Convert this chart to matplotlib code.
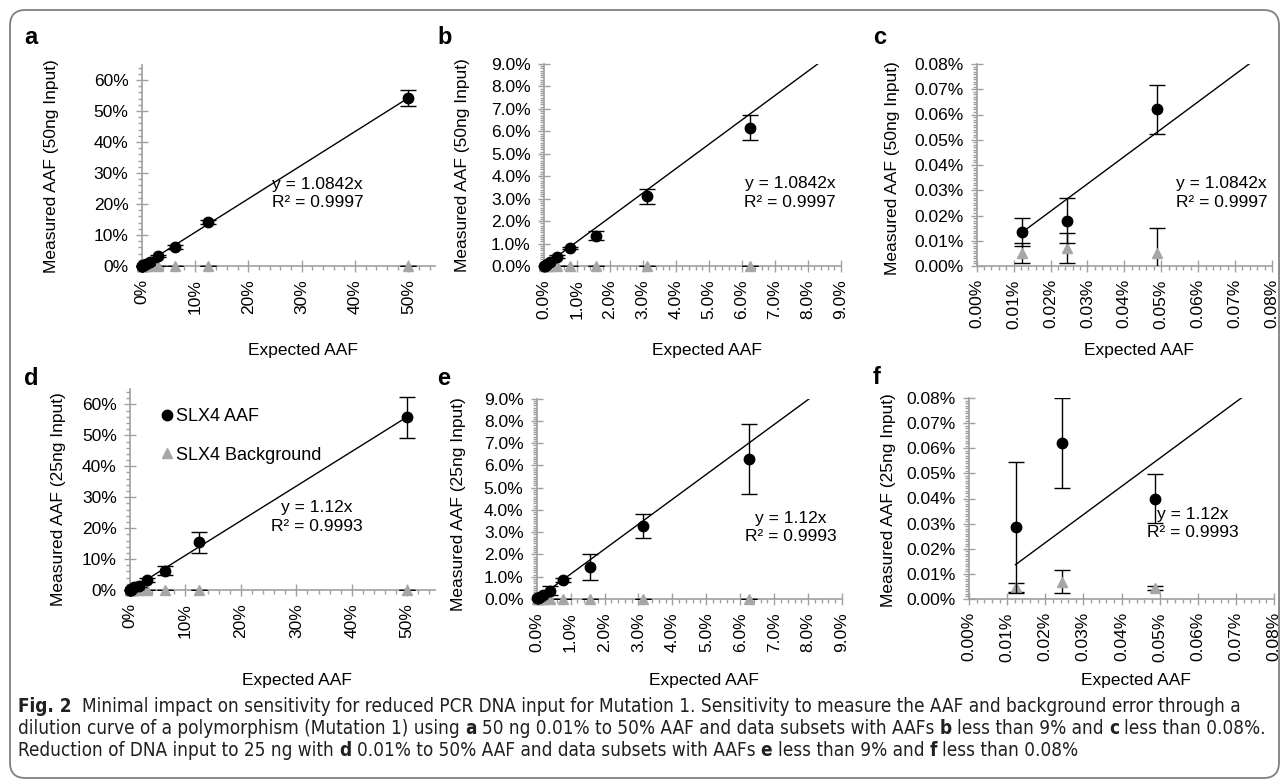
import numpy as np
import matplotlib
matplotlib.use("Agg")
import matplotlib.pyplot as plt
from matplotlib import font_manager
from matplotlib.ticker import MultipleLocator, PercentFormatter
from matplotlib.lines import Line2D
from matplotlib.patches import FancyBboxPatch

plt.rcParams['font.family'] = ['Liberation Sans', 'DejaVu Sans']

# expected AAF (%) of the dilution series
expected = [50, 12.5, 6.25, 3.125, 1.5625, 0.78125, 0.390625, 0.1953, 0.0977, 0.0488, 0.0244, 0.0122]

# 50 ng input
aaf_50 = [54.3, 14.2, 6.17, 3.1, 1.35, 0.8, 0.42, 0.2, 0.1, 0.062, 0.018, 0.0135]
aaf_50_err = [2.6, 0.5, 0.57, 0.35, 0.2, 0.05, 0.05, 0.03, 0.02, 0.0098, 0.009, 0.0055]
bg_50 = [0.005, 0.005, 0.005, 0.005, 0.005, 0.005, 0.005, 0.005, 0.005, 0.005, 0.007, 0.005]
bg_50_err = [0.003, 0.003, 0.003, 0.003, 0.003, 0.003, 0.003, 0.003, 0.003, 0.010, 0.006, 0.004]
slope_50 = 1.0842
r2_50 = 0.9997

# 25 ng input
aaf_25 = [55.8, 15.4, 6.3, 3.27, 1.45, 0.85, 0.38, 0.2, 0.1, 0.040, 0.062, 0.0285]
aaf_25_err = [6.5, 3.4, 1.57, 0.55, 0.58, 0.08, 0.2, 0.05, 0.03, 0.0096, 0.018, 0.026]
bg_25 = [0.005, 0.005, 0.005, 0.005, 0.005, 0.005, 0.005, 0.005, 0.005, 0.0045, 0.0068, 0.0047]
bg_25_err = [0.003, 0.003, 0.003, 0.003, 0.003, 0.003, 0.003, 0.003, 0.003, 0.0008, 0.0046, 0.0018]
slope_25 = 1.12
r2_25 = 0.9993

W, H = 1285, 784
fig = plt.figure(figsize=(W / 100, H / 100), dpi=100)

AXIS_GRAY = '#a0a0a0'
TRI_GRAY = '#a6a6a6'


def px(x, y):
    return x / W, 1 - y / H


# (left, top, right, bottom) in pixels, axis max, major, x minor, y minor, decimals
panels = [
    ('a', (141.7, 64.5, 435, 266), 55, 65, 10, 2, 2, 0, '50', 0.60, 0.36),
    ('b', (544, 64, 840.7, 266), 9, 9, 1, 0.2, 0.1, 1, '50', 0.83, 0.36),
    ('c', (976.7, 64, 1272, 266), 0.08, 0.08, 0.01, 0.002, 0.001, 2, '50', 0.83, 0.36),
    ('d', (130, 389, 435, 590), 55, 65, 10, 2, 2, 0, '25', 0.613, 0.363),
    ('e', (536.7, 398.7, 842, 599), 9, 9, 1, 0.2, 0.1, 1, '25', 0.833, 0.357),
    ('f', (969, 398, 1274, 599), 0.08, 0.08, 0.01, 0.002, 0.001, 2, '25', 0.734, 0.375),
]

for name, box, xmax, ymax, major, xminor, yminor, dec, ng, tx, ty in panels:
    l, t, r, b = box
    ax = fig.add_axes([l / W, 1 - b / H, (r - l) / W, (b - t) / H])

    if ng == '50':
        meas, meas_err, bg, bg_err, slope, r2 = aaf_50, aaf_50_err, bg_50, bg_50_err, slope_50, r2_50
    else:
        meas, meas_err, bg, bg_err, slope, r2 = aaf_25, aaf_25_err, bg_25, bg_25_err, slope_25, r2_25

    # data subset shown in this panel
    keep = np.array(expected) <= xmax
    x_sub = np.array(expected)[keep]
    m_sub, me_sub = np.array(meas)[keep], np.array(meas_err)[keep]
    b_sub, be_sub = np.array(bg)[keep], np.array(bg_err)[keep]

    xs = np.array([min(expected), max(expected)])
    ax.plot(xs, slope * xs, color='black', lw=1, zorder=2)
    ax.errorbar(x_sub, b_sub, yerr=be_sub, fmt='none', ecolor='black',
                elinewidth=1, capsize=6, capthick=1, zorder=3)
    ax.plot(x_sub, b_sub, ls='none', marker='^', color=TRI_GRAY, ms=7.5,
            clip_on=False, zorder=3)
    ax.errorbar(x_sub, m_sub, yerr=me_sub, fmt='none', ecolor='black',
                elinewidth=1, capsize=6, capthick=1, zorder=4)
    ax.plot(x_sub, m_sub, ls='none', marker='o', color='black', ms=7.5,
            clip_on=False, zorder=4)

    ax.set_xlim(0, xmax)
    ax.set_ylim(0, ymax)
    ax.xaxis.set_major_locator(MultipleLocator(major))
    ax.yaxis.set_major_locator(MultipleLocator(major))
    ax.xaxis.set_minor_locator(MultipleLocator(xminor))
    ax.yaxis.set_minor_locator(MultipleLocator(yminor))
    ax.xaxis.set_major_formatter(PercentFormatter(100, decimals=dec))
    ax.yaxis.set_major_formatter(PercentFormatter(100, decimals=dec))

    for s in ['top', 'right']:
        ax.spines[s].set_visible(False)
    for s in ['left', 'bottom']:
        ax.spines[s].set_color(AXIS_GRAY)
        ax.spines[s].set_linewidth(1.2)
        ax.spines[s].set_zorder(1)
    ax.tick_params(which='major', direction='inout', length=8, width=1, color=AXIS_GRAY,
                   labelsize=12.5, pad=5.5)
    ax.tick_params(which='minor', direction='out', length=3, width=1, color=AXIS_GRAY)
    ax.tick_params(axis='x', labelrotation=90)
    ax.patch.set_alpha(0)

    ax.text(tx, ty, f'y = {slope}x\nR² = {r2}', transform=ax.transAxes,
            ha='center', va='center', multialignment='center', fontsize=12.5,
            linespacing=1.3)

    if name == 'd':
        handles = [Line2D([], [], ls='none', marker='o', color='black', ms=7.5),
                   Line2D([], [], ls='none', marker='^', color=TRI_GRAY, ms=7)]
        ax.legend(handles, ['SLX4 AAF', 'SLX4 Background'], loc='upper left',
                  bbox_to_anchor=(0.103, 0.905), frameon=False, fontsize=13,
                  handlelength=0.6, handletextpad=0.2, labelspacing=1.2,
                  borderpad=0, borderaxespad=0)

# panel letters
for letter, (x, y) in zip('abcdef', [(31, 38), (445, 38), (880, 38),
                                     (31, 378), (444, 378), (877, 377)]):
    fig.text(*px(x, y), letter, fontsize=17, fontweight='bold', ha='center', va='center')

# axis titles
for x, y, s in [(52, 166, '50'), (462, 165, '50'), (892, 168, '50'),
                (58, 499, '25'), (458, 504, '25'), (889, 500, '25')]:
    fig.text(*px(x, y), f'Measured AAF ({s}ng Input)', rotation=90, fontsize=12.5,
             ha='center', va='center')
for x, y in [(303, 350), (707, 350), (1139, 350), (297, 680), (704, 680), (1136, 680)]:
    fig.text(*px(x, y), 'Expected AAF', fontsize=12.5, ha='center', va='center')

# outer frame
frame = FancyBboxPatch((10 / W, 1 - 778 / H), 1269 / W, 768 / H,
                       boxstyle='round,pad=0,rounding_size=0.012',
                       mutation_aspect=W / H, transform=fig.transFigure,
                       fc='none', ec='#808080', lw=1.3)
fig.patches.append(frame)

# caption: look for a narrow face, then fit the first line to the reference width
cap_font = 'Liberation Sans'
cap_stretch = 'normal'
for f in font_manager.fontManager.ttflist:
    if 'Narrow' in f.name or 'Condensed' in f.name:
        cap_font, cap_stretch = f.name, f.stretch
        break
    if f.stretch in ('condensed', 'semi-condensed', 'extra-condensed') and f.style == 'normal':
        cap_font, cap_stretch = f.name, f.stretch
        break

renderer = fig.canvas.get_renderer()


def text_width(s, bold, size):
    t = fig.text(0, 0, s, fontsize=size, family=cap_font, stretch=cap_stretch,
                 fontweight='bold' if bold else 'normal')
    w = t.get_window_extent(renderer).width
    t.remove()
    return w


caption = [
    [('Fig. 2', True), ('', False),
     ('Minimal impact on sensitivity for reduced PCR DNA input for Mutation 1. Sensitivity to measure the AAF and background error through a', False)],
    [('dilution curve of a polymorphism (Mutation 1) using', False), ('a', True),
     ('50 ng 0.01% to 50% AAF and data subsets with AAFs', False), ('b', True),
     ('less than 9% and', False), ('c', True), ('less than 0.08%.', False)],
    [('Reduction of DNA input to 25 ng with', False), ('d', True),
     ('0.01% to 50% AAF and data subsets with AAFs', False), ('e', True),
     ('less than 9% and', False), ('f', True), ('less than 0.08%', False)],
]


def line_width(line, size):
    sp = text_width('a a', False, size) - text_width('aa', False, size)
    return sum(text_width(s, bold, size) for s, bold in line if s) + sp * (len(line) - 1)


cap_size = 11.0
cap_size = cap_size * (1245 - 18) / line_width(caption[0], cap_size)
space_w = text_width('a a', False, cap_size) - text_width('aa', False, cap_size)

for i, line in enumerate(caption):
    x = 18
    y = 707 + 22 * i
    for s, bold in line:
        if s:
            fig.text(x / W, 1 - y / H, s, fontsize=cap_size, family=cap_font,
                     stretch=cap_stretch, fontweight='bold' if bold else 'normal',
                     va='center', ha='left', color='#231f20')
            x += text_width(s, bold, cap_size)
        x += space_w

fig.savefig('out.png', dpi=100)
